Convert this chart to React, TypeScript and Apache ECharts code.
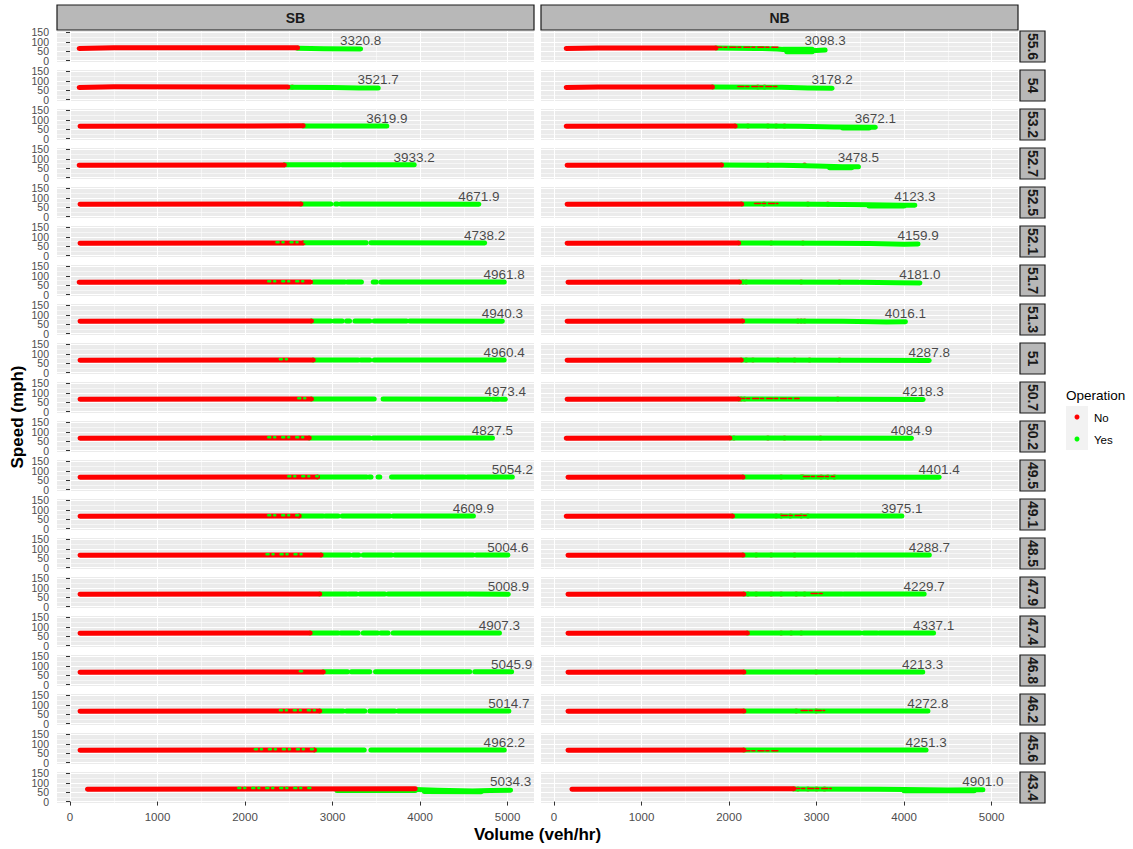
import React, { useEffect, useRef } from "react";
import * as echarts from "echarts";

// ---------------- data ----------------
const directions = ["SB", "NB"];
const mileposts = ["55.6", "54", "53.2", "52.7", "52.5", "52.1", "51.7", "51.3", "51", "50.7", "50.2", "49.5", "49.1", "48.5", "47.9", "47.4", "46.8", "46.2", "45.6", "43.4"];
const sbMaxVolume = [3320.8, 3521.7, 3619.9, 3933.2, 4671.9, 4738.2, 4961.8, 4940.3, 4960.4, 4973.4, 4827.5, 5054.2, 4609.9, 5004.6, 5008.9, 4907.3, 5045.9, 5014.7, 4962.2, 5034.3];
const nbMaxVolume = [3098.3, 3178.2, 3672.1, 3478.5, 4123.3, 4159.9, 4181.0, 4016.1, 4287.8, 4218.3, 4084.9, 4401.4, 3975.1, 4288.7, 4229.7, 4337.1, 4213.3, 4272.8, 4251.3, 4901.0];
const xTicks = [0, 1000, 2000, 3000, 4000, 5000];
const yTicks = [0, 50, 100, 150];
const yTicksEven = [0, 100];
const yTicksOdd = [50, 150];
const legendItems = ["No", "Yes"];

// "No" operation (red) traces [volume, speed]
const sbNo = [
  [[105, 65], [500, 68], [2600, 68]],
  [[105, 65], [500, 68], [2490, 67]],
  [[115, 66], [2665, 68]],
  [[105, 66], [2450, 67]],
  [[115, 66], [2640, 67]],
  [[115, 66], [2665, 67]],
  [[105, 66], [2750, 67]],
  [[115, 66], [2760, 67]],
  [[115, 66], [2780, 67]],
  [[115, 66], [2760, 67]],
  [[115, 66], [2735, 67]],
  [[115, 66], [2830, 67]],
  [[115, 66], [2620, 67]],
  [[115, 66], [2870, 67]],
  [[115, 66], [2855, 67]],
  [[115, 66], [2745, 67]],
  [[115, 66], [2895, 67]],
  [[115, 66], [2855, 67]],
  [[115, 66], [2795, 67]],
  [[200, 66], [3945, 68]],
];
const nbNo = [
  [[140, 65], [500, 67], [1850, 67]],
  [[140, 65], [500, 67], [1810, 67]],
  [[140, 66], [2070, 67]],
  [[150, 66], [1915, 67]],
  [[150, 66], [2145, 67]],
  [[150, 66], [2110, 67]],
  [[160, 66], [2120, 67]],
  [[150, 66], [2155, 67]],
  [[150, 66], [2140, 67]],
  [[150, 66], [2110, 67]],
  [[140, 66], [2010, 67]],
  [[160, 66], [2160, 67]],
  [[140, 66], [2040, 67]],
  [[160, 66], [2160, 67]],
  [[160, 66], [2170, 67]],
  [[160, 66], [2210, 67]],
  [[160, 66], [2170, 67]],
  [[160, 66], [2170, 67]],
  [[160, 66], [2170, 67]],
  [[205, 66], [2740, 68]],
];

// "Yes" operation (green) traces, split where the points have gaps
const sbYes = [
  [[[2600, 66], [2900, 63], [3320.8, 62]]],
  [[[2500, 66], [3000, 65], [3300, 62], [3521.7, 62]]],
  [[[2665, 67], [3619.9, 67]]],
  [[[2450, 68], [3080, 68]], [[3110, 68], [3933.2, 68]]],
  [[[2640, 67], [2980, 67]], [[3035, 67], [3055, 67]], [[3095, 67], [4671.9, 66]]],
  [[[2665, 68], [3385, 68]], [[3440, 68], [4738.2, 67]]],
  [[[2780, 67], [2970, 67]], [[2990, 67], [3140, 67]], [[3170, 67], [3255, 67]], [[3275, 67], [3330, 67]], [[3465, 67], [3500, 67]], [[3552, 67], [4961.8, 67]]],
  [[[2760, 67], [2980, 67]], [[3018, 67], [3110, 67]], [[3160, 67], [3195, 67]], [[3255, 67], [3426, 67]], [[3476, 67], [3845, 67]], [[3883, 67], [4940.3, 66]]],
  [[[2780, 67], [3293, 67]], [[3323, 67], [3426, 67]], [[3476, 67], [4960.4, 67]]],
  [[[2760, 67], [3476, 67]], [[3578, 67], [4800, 66]], [[4830, 66], [4900, 66]], [[4930, 66], [4973.4, 66]]],
  [[[2735, 67], [3216, 67]], [[3235, 67], [3426, 67]], [[3464, 67], [4827.5, 67]]],
  [[[2830, 67], [3390, 67]], [[3420, 67], [3440, 67]], [[3520, 67], [3540, 67]], [[3674, 67], [4035, 67]], [[4062, 67], [4511, 67]], [[4542, 67], [5054.2, 67]]],
  [[[2620, 67], [2893, 67]], [[2920, 67], [3064, 67]], [[3110, 67], [3654, 67]], [[3692, 67], [4609.9, 67]]],
  [[[2870, 67], [3197, 67]], [[3235, 67], [3300, 67]], [[3350, 67], [3674, 67]], [[3712, 67], [4606, 67]], [[4644, 67], [4740, 67]], [[4758, 67], [5004.6, 67]]],
  [[[2855, 67], [3160, 67]], [[3186, 67], [3274, 67]], [[3312, 67], [3597, 67]], [[3635, 67], [4530, 67]], [[4556, 67], [5008.9, 66]]],
  [[[2745, 67], [3064, 67]], [[3095, 67], [3293, 67]], [[3350, 67], [3514, 67]], [[3552, 67], [3635, 67]], [[3692, 67], [4907.3, 67]]],
  [[[2895, 68], [3171, 68]], [[3216, 68], [3426, 68]], [[3491, 68], [4568, 68]], [[4625, 68], [5045.9, 68]]],
  [[[2855, 67], [3122, 67]], [[3160, 67], [3369, 67]], [[3426, 67], [3712, 67]], [[3749, 67], [5014.7, 67]]],
  [[[2795, 67], [3362, 67]], [[3438, 67], [4962.2, 67]]],
  [[[3050, 59], [3945, 59]], [[3945, 64], [4200, 60], [4600, 57], [4800, 59], [5034.3, 61]], [[4050, 54], [4700, 53]]],
];
const nbYes = [
  [[[1850, 67], [2300, 65], [2550, 62], [2700, 56], [2850, 52], [3000, 54], [3098.3, 56]], [[2620, 61], [2950, 61]], [[2660, 47], [2950, 47]]],
  [[[1810, 67], [2600, 66], [2900, 62], [3178.2, 60]]],
  [[[2070, 67], [2800, 66], [3200, 62], [3672.1, 60]], [[3300, 56], [3600, 56]]],
  [[[1915, 67], [2600, 66], [3000, 62], [3300, 58], [3478.5, 58]], [[3150, 53], [3400, 53]]],
  [[[2145, 67], [3000, 66], [3600, 63], [4000, 60], [4123.3, 61]], [[3600, 57], [4000, 57]]],
  [[[2110, 67], [3200, 66], [3600, 64], [4000, 61], [4159.9, 62]]],
  [[[2120, 67], [3480, 66]], [[3502, 66], [3900, 63], [4181.0, 62]]],
  [[[2155, 67], [3300, 66], [3800, 62], [4016.1, 63]]],
  [[[2140, 67], [3400, 66], [4287.8, 64]]],
  [[[2110, 67], [3500, 66], [4218.3, 65]]],
  [[[2010, 67], [4084.9, 66]]],
  [[[2160, 67], [4401.4, 66]]],
  [[[2040, 67], [3975.1, 67]]],
  [[[2160, 67], [3440, 67]], [[3465, 67], [4288.7, 67]]],
  [[[2170, 67], [3289, 67]], [[3312, 67], [4229.7, 67]]],
  [[[2210, 67], [3500, 67]], [[3540, 67], [3694, 67]], [[3720, 67], [4337.1, 67]]],
  [[[2170, 67], [2700, 67]], [[2720, 67], [4213.3, 67]]],
  [[[2170, 67], [4272.8, 67]]],
  [[[2170, 67], [4251.3, 67]]],
  [[[2740, 67], [3700, 66], [4000, 64], [4500, 62], [4901.0, 63]], [[4000, 58], [4800, 58]]],
];

// mixed zones: [fromVolume, toVolume, speed]
const sbYesMix = [
  [], [], [], [], [], [[2360, 2690, 71]], [[2265, 2665, 71]], [], [[2398, 2494, 71]], [[2608, 2760, 71]],
  [[2265, 2735, 71]], [[2494, 2830, 71]], [[2265, 2620, 71]], [[2246, 2722, 71]], [], [], [[2627, 2665, 71]], [[2398, 2855, 71]], [[2113, 2795, 71]], [[1923, 2760, 72]],
];
const nbNoMix = [
  [[1850, 2580, 71]], [[2101, 2558, 70]], [], [], [[2292, 2558, 70]], [], [], [], [], [[2110, 2800, 70]],
  [], [[2850, 3205, 70]], [[2596, 2901, 70]], [], [[2939, 3072, 70]], [], [], [[2825, 3091, 70]], [[2170, 2558, 63]], [[2740, 3167, 70]],
];
const sbNoDots = [[], [2540], [], [], [], [], [], [], [], [], [], [], [], [], [], [], [], [], [], []];
const nbNoDots = [
  [], [2330, 2406], [2216, 2444, 2539, 2634], [2444, 2863], [2400, 2901, 3129], [2482, 2844], [2158, 2196, 2825, 3262], [2787, 2825, 2863], [2197, 2273, 2558, 2749, 2920, 3262], [2139, 2177, 3243],
  [2056, 2444, 2634, 3045], [2596, 2825, 2844, 3053, 3129, 3205], [2539, 2596, 2700, 2825, 2901], [2311, 2482, 2749], [2216, 2311, 2482, 2596, 2768, 2863], [2596, 2710, 2825], [2996], [2768, 2996], [], [2787, 2901, 3000, 3091],
];

// ---------------- layout / style ----------------
const X_MIN = -148.5;
const X_MAX = 5302;
const Y_MIN = -7.5;
const Y_MAX = 157.5;
const LABEL_SPEED = 109;
const DOT_SPEED = 67;
const PANEL_LEFT = [57, 541];
const PANEL_W = 477;
const PANEL_TOP0 = 31;
const PANEL_PITCH = 39;
const PANEL_H = 31;
const RED = "#FF0000";
const GREEN = "#00FF00";
const FONT = "'Liberation Sans', Arial, Helvetica, sans-serif";

function txt(text: string, x: number, y: number, font: string, align: string, rotation = 0, fill = "#1A1A1A") {
  return {
    type: "text",
    x,
    y,
    rotation,
    silent: true,
    z: 100,
    style: {
      text,
      font,
      fill,
      align,
      verticalAlign: "middle",
      textAlign: align,
      textVerticalAlign: "middle",
    },
  };
}

function lineSer(p: number, data: number[][], color: string, width: number, dash: any = "solid") {
  return {
    type: "line",
    xAxisIndex: p,
    yAxisIndex: p,
    data,
    symbol: "none",
    showSymbol: false,
    silent: true,
    animation: false,
    clip: true,
    emphasis: { disabled: true },
    lineStyle: { color, width, cap: "round", join: "round", type: dash },
  };
}

function yLabelAxis(gridIndex: number, values: number[], show: boolean, primary: boolean) {
  return {
    type: "value",
    gridIndex,
    position: "left",
    min: Y_MIN,
    max: Y_MAX,
    splitNumber: 3,
    minInterval: 50,
    maxInterval: 50,
    axisLine: { show: false },
    axisTick: { show: show && primary, length: 4, customValues: yTicks, lineStyle: { color: "#333333", width: 1 } },
    axisLabel: {
      show,
      customValues: values,
      showMinLabel: true,
      showMaxLabel: true,
      hideOverlap: false,
      color: "#4D4D4D",
      fontSize: 10.5,
      fontFamily: FONT,
      margin: 8,
      formatter: (v: number) => (values.includes(v) ? String(v) : ""),
    },
    splitLine: { show: primary, lineStyle: { color: "#FFFFFF", width: 1.1 } },
    minorTick: { show: false, splitNumber: 2 },
    minorSplitLine: { show: primary, lineStyle: { color: "#FFFFFF", width: 0.55 } },
  };
}

function buildOption() {
  const grids: any[] = [];
  const xAxes: any[] = [];
  const yAxes: any[] = [];
  const yAxesExtra: any[] = [];
  const greenS: any[] = [];
  const redS: any[] = [];
  const mixS: any[] = [];
  const labelS: any[] = [];
  const graphic: any[] = [];

  mileposts.forEach((mp, r) => {
    directions.forEach((dir, c) => {
      const p = r * 2 + c;
      const top = PANEL_TOP0 + r * PANEL_PITCH;
      grids.push({
        left: PANEL_LEFT[c],
        top,
        width: PANEL_W,
        height: PANEL_H,
        show: true,
        backgroundColor: "#EBEBEB",
        borderWidth: 0,
        containLabel: false,
        outerBoundsMode: "none",
      });
      xAxes.push({
        type: "value",
        gridIndex: p,
        min: X_MIN,
        max: X_MAX,
        splitNumber: 5,
        minInterval: 1000,
        maxInterval: 1000,
        axisLine: { show: false },
        axisTick: { show: r === mileposts.length - 1, length: 4, customValues: xTicks, lineStyle: { color: "#333333", width: 1 } },
        axisLabel: {
          show: r === mileposts.length - 1,
          customValues: xTicks,
          showMinLabel: true,
          showMaxLabel: true,
          color: "#4D4D4D",
          fontSize: 11.5,
          fontFamily: FONT,
          margin: 8,
          formatter: (v: number) => (xTicks.includes(v) ? String(v) : ""),
        },
        splitLine: { show: true, lineStyle: { color: "#FFFFFF", width: 1.1 } },
        minorTick: { show: false, splitNumber: 2 },
        minorSplitLine: { show: true, lineStyle: { color: "#FFFFFF", width: 0.55 } },
      });
      yAxes.push(yLabelAxis(p, yTicksEven, c === 0, true));
      if (c === 0) yAxesExtra.push(yLabelAxis(p, yTicksOdd, true, false));

      const yes = c === 0 ? sbYes[r] : nbYes[r];
      const no = c === 0 ? sbNo[r] : nbNo[r];
      yes.forEach((seg) => greenS.push(lineSer(p, seg, GREEN, 5)));
      redS.push(lineSer(p, no, RED, 5));

      if (c === 0) {
        sbYesMix[r].forEach((m) => mixS.push(lineSer(p, [[m[0], m[2]], [m[1], m[2]]], GREEN, 2.5, [2, 4, 1, 7])));
        if (sbNoDots[r].length) {
          mixS.push({
            type: "scatter", xAxisIndex: p, yAxisIndex: p, silent: true, symbolSize: 5,
            itemStyle: { color: RED }, data: sbNoDots[r].map((x) => [x, DOT_SPEED]),
          });
        }
      } else {
        nbNoMix[r].forEach((m) => mixS.push(lineSer(p, [[m[0], m[2]], [m[1], m[2]]], RED, 1.6, [6, 2, 3, 3])));
        if (nbNoDots[r].length) {
          mixS.push({
            type: "scatter", xAxisIndex: p, yAxisIndex: p, silent: true, symbolSize: 5,
            itemStyle: { color: RED }, data: nbNoDots[r].map((x) => [x, DOT_SPEED]),
          });
        }
      }

      const maxV = c === 0 ? sbMaxVolume[r] : nbMaxVolume[r];
      labelS.push({
        type: "scatter",
        xAxisIndex: p,
        yAxisIndex: p,
        silent: true,
        symbolSize: 1,
        itemStyle: { color: "rgba(0,0,0,0)" },
        data: [[maxV, LABEL_SPEED]],
        z: 10,
        label: {
          show: true,
          position: "inside",
          formatter: maxV.toFixed(1),
          color: "#1A1A1A",
          fontSize: 13.5,
          fontFamily: FONT,
        },
      });
    });

    // right strip
    const top = PANEL_TOP0 + r * PANEL_PITCH;
    graphic.push({
      type: "rect",
      silent: true,
      z: 90,
      shape: { x: 1020, y: top, width: 25, height: PANEL_H },
      style: { fill: "#B8B8B8", stroke: "#1A1A1A", lineWidth: 1.2 },
    });
    graphic.push(txt(mp, 1032.5, top + PANEL_H / 2, `bold 14px ${FONT}`, "center", -Math.PI / 2));
  });

  // top strips
  directions.forEach((dir, c) => {
    graphic.push({
      type: "rect",
      silent: true,
      z: 90,
      shape: { x: PANEL_LEFT[c], y: 5, width: PANEL_W, height: 25 },
      style: { fill: "#B8B8B8", stroke: "#1A1A1A", lineWidth: 1.2 },
    });
    graphic.push(txt(dir, PANEL_LEFT[c] + PANEL_W / 2, 18, `bold 14px ${FONT}`, "center"));
  });

  // axis titles
  graphic.push(txt("Speed (mph)", 17, 417, `bold 17px ${FONT}`, "center", Math.PI / 2, "#000000"));
  graphic.push(txt("Volume (veh/hr)", 537.5, 834, `bold 17px ${FONT}`, "center", 0, "#000000"));

  // legend
  graphic.push(txt("Operation", 1066, 395, `13.5px ${FONT}`, "left", 0, "#000000"));
  legendItems.forEach((name, i) => {
    const cy = 417 + i * 22;
    graphic.push({
      type: "rect", silent: true, z: 90,
      shape: { x: 1066, y: cy - 11, width: 22, height: 22 },
      style: { fill: "#F2F2F2" },
    });
    graphic.push({
      type: "circle", silent: true, z: 95,
      shape: { cx: 1077, cy, r: 2.5 },
      style: { fill: i === 0 ? RED : GREEN },
    });
    graphic.push(txt(name, 1094, cy + 1, `11.5px ${FONT}`, "left", 0, "#000000"));
  });

  return {
    animation: false,
    backgroundColor: "#FFFFFF",
    textStyle: { fontFamily: FONT },
    grid: grids,
    xAxis: xAxes,
    yAxis: [...yAxes, ...yAxesExtra],
    series: [...greenS, ...redS, ...mixS, ...labelS],
    graphic,
  };
}

export default function App() {
  const ref = useRef<HTMLDivElement>(null);
  useEffect(() => {
    if (!ref.current) return;
    const chart = echarts.init(ref.current, undefined, { renderer: "svg" });
    chart.setOption(buildOption() as any);
    return () => chart.dispose();
  }, []);
  return (
    <div
      ref={ref}
      style={{ position: "fixed", left: 0, top: 0, width: 1133, height: 849, background: "#FFFFFF" }}
    />
  );
}
